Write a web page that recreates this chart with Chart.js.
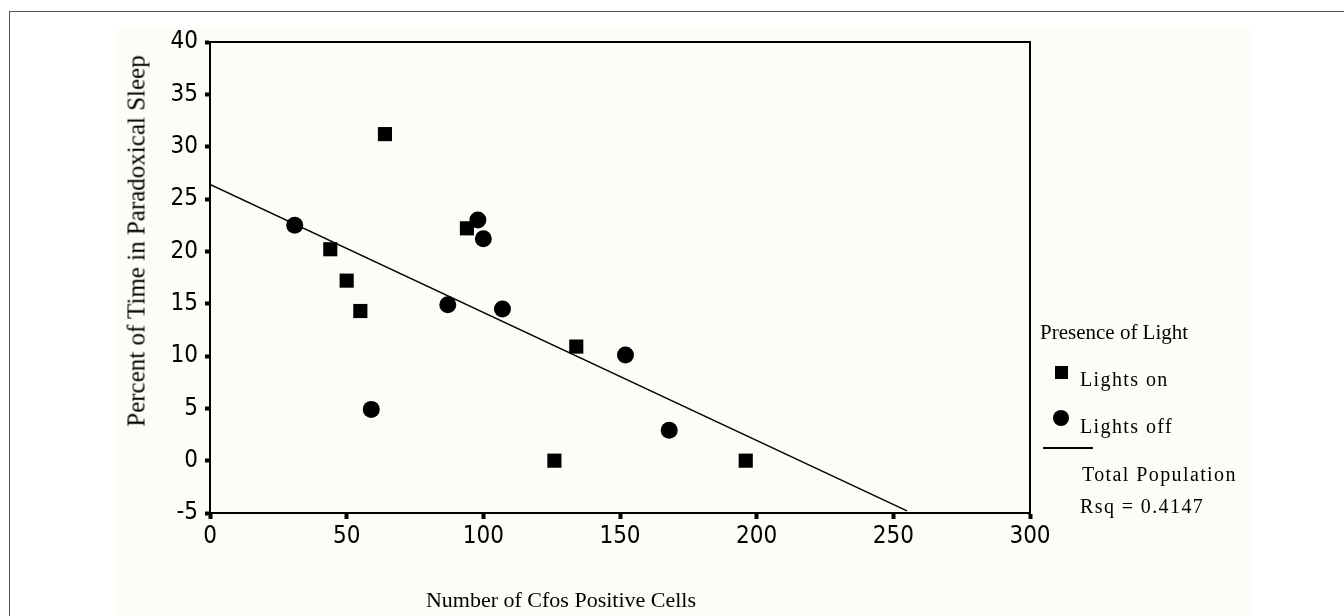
<!DOCTYPE html>
<html>
<head>
<meta charset="utf-8">
<script src="https://cdn.jsdelivr.net/npm/chart.js@4.4.1/dist/chart.umd.min.js"></script>
<style>
    body { margin: 0; background: #fff; overflow: hidden; }
    #frame { position: absolute; left: 9px; top: 11px; width: 1400px; height: 700px; border: 1px solid #555; }
    #panel { position: absolute; left: 115px; top: 28px; width: 1135px; height: 600px; background: #fdfdf7; }
    #sleepChart { position: absolute; left: 0; top: 0; }
    .txt { position: absolute; font-family: "Liberation Serif", "Times New Roman", serif; color: #000; white-space: nowrap; line-height: 1; }
    .legend-text { font-size: 20px; letter-spacing: 1.4px; }
    .mark { position: absolute; background: #000; }
</style>
</head>
<body>
<div id="frame"></div>
<div id="panel"></div>
<canvas id="sleepChart" width="1344" height="616"></canvas>

<div class="txt" id="yTitle" style="font-size:25px; left:136px; top:241px; transform: translate(-50%, -50%) rotate(-90deg);">Percent of Time in Paradoxical Sleep</div>
<div class="txt" style="font-size:22px; left:561px; top:600px; transform: translate(-50%, -50%);">Number of Cfos Positive Cells</div>

<div class="txt" style="font-size:21px; left:1040px; top:322px;">Presence of Light</div>
<div class="mark" style="left:1055px; top:366px; width:13px; height:13px;"></div>
<div class="txt legend-text" style="left:1080px; top:369px;">Lights on</div>
<div class="mark" style="left:1053px; top:410px; width:16px; height:16px; border-radius:50%;"></div>
<div class="txt legend-text" style="left:1080px; top:416px;">Lights off</div>
<div class="mark" style="left:1043px; top:447px; width:50px; height:2px;"></div>
<div class="txt legend-text" style="left:1082px; top:464px;">Total Population</div>
<div class="txt legend-text" style="left:1080px; top:496px;">Rsq = 0.4147</div>

<script>
// Lights on (squares)
const lightsOnX = [44, 50, 55, 64, 94, 126, 134, 196];
const lightsOnY = [20.2, 17.2, 14.3, 31.2, 22.2, 0, 10.9, 0];

// Lights off (circles)
const lightsOffX = [31, 59, 87, 98, 100, 107, 152, 168];
const lightsOffY = [22.5, 4.9, 14.9, 23.0, 21.2, 14.5, 10.1, 2.9];

// Total population fit line
const fitX = [0, 255];
const fitY = [26.4, -4.8];

const xTicks = [0, 50, 100, 150, 200, 250, 300];
const yTicks = [-5, 0, 5, 10, 15, 20, 25, 30, 35, 40];

function toPoints(xs, ys) {
    return xs.map((x, i) => ({ x: x, y: ys[i] }));
}

// box round the plot area (top and right sides)
const plotFrame = {
    id: "plotFrame",
    afterDatasetsDraw(chart) {
        const { ctx, chartArea } = chart;
        ctx.save();
        ctx.strokeStyle = "#000";
        ctx.lineWidth = 2;
        ctx.beginPath();
        ctx.moveTo(chartArea.left, chartArea.top);
        ctx.lineTo(chartArea.right, chartArea.top);
        ctx.lineTo(chartArea.right, chartArea.bottom);
        ctx.stroke();
        ctx.restore();
    }
};

const tickFont = { family: "'Liberation Sans Narrow', 'DejaVu Sans Condensed', sans-serif", size: 24 };

new Chart(document.getElementById("sleepChart"), {
    type: "scatter",
    data: {
        datasets: [
            {
                label: "Lights on",
                data: toPoints(lightsOnX, lightsOnY),
                pointStyle: "rect",
                pointRadius: 10,
                backgroundColor: "#000",
                borderColor: "#000",
                borderWidth: 0
            },
            {
                label: "Lights off",
                data: toPoints(lightsOffX, lightsOffY),
                pointStyle: "circle",
                pointRadius: 8.5,
                backgroundColor: "#000",
                borderColor: "#000",
                borderWidth: 0
            },
            {
                label: "Total Population",
                data: toPoints(fitX, fitY),
                showLine: true,
                pointRadius: 0,
                borderColor: "#000",
                borderWidth: 1.5,
                fill: false
            }
        ]
    },
    options: {
        responsive: false,
        animation: false,
        devicePixelRatio: 1,
        layout: { padding: { left: 0, top: 42, right: 314, bottom: 0 } },
        plugins: {
            legend: { display: false },
            tooltip: { enabled: false }
        },
        scales: {
            x: {
                type: "linear",
                min: 0,
                max: 300,
                afterFit: s => { s.height = 103; },
                afterBuildTicks: s => { s.ticks = xTicks.map(v => ({ value: v })); },
                border: { display: true, color: "#000", width: 2 },
                grid: { drawOnChartArea: false, drawTicks: true, tickLength: 6, tickWidth: 4, tickColor: "#000" },
                ticks: { color: "#000", font: tickFont, padding: 3, maxRotation: 0 }
            },
            y: {
                type: "linear",
                min: -5,
                max: 40,
                afterFit: s => { s.width = 210; },
                afterBuildTicks: s => { s.ticks = yTicks.map(v => ({ value: v })); },
                border: { display: true, color: "#000", width: 2 },
                grid: { drawOnChartArea: false, drawTicks: true, tickLength: 5, tickWidth: 4, tickColor: "#000" },
                ticks: { color: "#000", font: tickFont, padding: 7 }
            }
        }
    },
    plugins: [plotFrame]
});
</script>
</body>
</html>
